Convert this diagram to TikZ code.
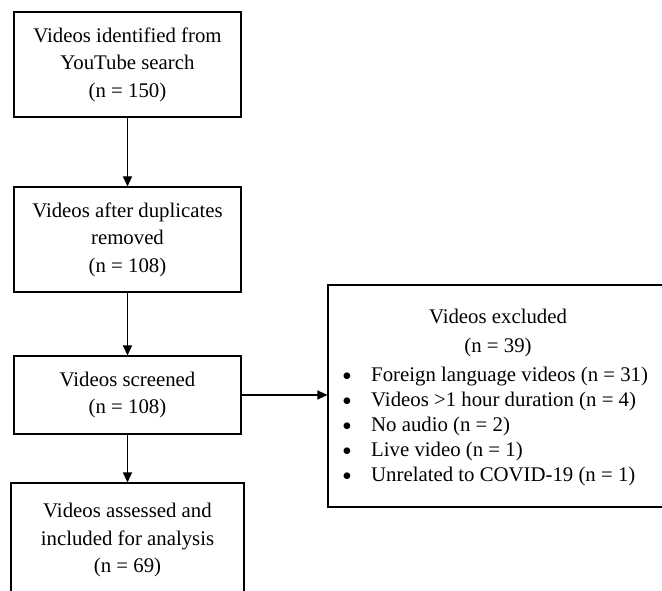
\documentclass[tikz,border=0pt]{standalone}
\usepackage{fontspec}
\setmainfont{Liberation Serif}
\usetikzlibrary{arrows.meta}
\newcommand{\blt}{\makebox[29pt][l]{\smash{\raisebox{-4.5pt}{\fontsize{28}{25}\selectfont •}}}}
\begin{document}
\begin{tikzpicture}[x=1pt,y=-1pt,
  box/.style={draw, line width=1.1pt, inner sep=0pt, align=center, font=\fontsize{20.8}{27.5}\selectfont},
  txt/.style={inner sep=0pt, font=\fontsize{20.8}{25}\selectfont},
  flow/.style={line width=1.1pt, -{Triangle[length=10pt,width=9pt]}}]
\useasboundingbox (0,0) rectangle (662,591);
\clip (0,0) rectangle (662,591);
\node[box, minimum width=227pt, minimum height=105pt] (ident) at (127.5,64.5) {Videos identified from\\YouTube search\\(n = 150)};
\node[box, minimum width=227pt, minimum height=105pt] (dedup) at (127.5,239.5) {Videos after duplicates\\removed\\(n = 108)};
\node[box, minimum width=227pt, minimum height=78pt] (screen) at (127.5,395) {Videos screened\\(n = 108)};
\node[box, minimum width=233pt, minimum height=114pt] (incl) at (127.5,540) {Videos assessed and\\included for analysis\\(n = 69)};
\node[draw, line width=1.1pt, inner sep=0pt, minimum width=340pt, minimum height=222pt] (excl) at (498,396) {};
\node[txt, align=center, font=\fontsize{20.8}{28.5}\selectfont] (exclhead) at (498,333) {Videos excluded\\(n = 39)};
\node[txt, align=left, anchor=west] (excllist) at (342,426) {%
\blt Foreign language videos (n = 31)\\
\blt Videos >1 hour duration (n = 4)\\
\blt No audio (n = 2)\\
\blt Live video (n = 1)\\
\blt Unrelated to COVID-19 (n = 1)};
\draw[flow] (ident) -- (dedup);
\draw[flow] (dedup) -- (screen);
\draw[flow] (screen) -- (incl);
\draw[flow] (screen.east) -- (screen.east -| excl.west);
\end{tikzpicture}
\end{document}
